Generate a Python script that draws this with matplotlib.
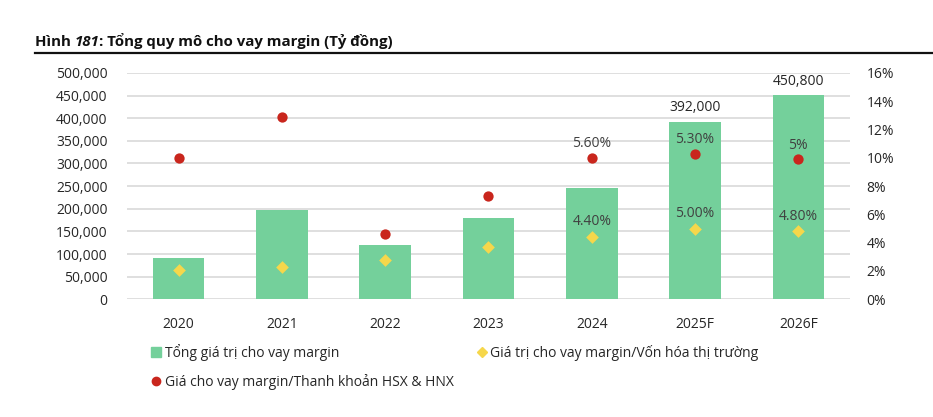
import matplotlib
matplotlib.use("Agg")
import matplotlib.pyplot as plt
from matplotlib.lines import Line2D
from matplotlib.offsetbox import HPacker, TextArea, AnchoredOffsetbox

plt.rcParams['font.family'] = ['Open Sans', 'DejaVu Sans']

years = ["2020", "2021", "2022", "2023", "2024", "2025F", "2026F"]
margin_total = [92000, 198000, 120000, 180000, 245000, 392000, 450800]
ratio_mcap = [2.1, 2.3, 2.8, 3.7, 4.4, 5.0, 4.8]
ratio_liquidity = [10.0, 12.9, 4.6, 7.3, 10.0, 10.3, 9.9]

bar_labels = {5: "392,000", 6: "450,800"}
dot_labels = {4: "5.60%", 5: "5.30%", 6: "5%"}
diamond_labels = {4: "4.40%", 5: "5.00%", 6: "4.80%"}

green = "#74D09B"
red = "#C9261D"
yellow = "#F6D74B"
grid_c = "#D9D9D9"
text_c = "#262626"
label_c = "#404040"

fig = plt.figure(figsize=(9.33, 4.17), dpi=100)
ax = fig.add_axes([0.1361, 0.2823, 0.7749, 0.5427])
ax2 = ax.twinx()

x = list(range(len(years)))
ax.bar(x, margin_total, width=0.5, color=green, zorder=2)
ax.set_xlim(-0.5, len(years) - 0.5)
ax.set_ylim(0, 500000)
ax.set_yticks(range(0, 500001, 50000))
ax.set_yticklabels([f"{v:,}" for v in range(0, 500001, 50000)])
ax.grid(axis="y", color=grid_c, linewidth=1.2, zorder=0)
ax.set_axisbelow(True)
ax.set_xticks(x)
ax.set_xticklabels(years)

ax2.scatter(x, ratio_liquidity, s=55, color=red, marker="o", zorder=4, linewidths=0)
ax2.scatter(x, ratio_mcap, s=42, color=yellow, marker="D", zorder=4, linewidths=0)
ax2.set_ylim(0, 16)
ax2.set_yticks(range(0, 17, 2))
ax2.set_yticklabels([f"{v}%" for v in range(0, 17, 2)])

for a in (ax, ax2):
    for s in a.spines.values():
        s.set_visible(False)
ax.tick_params(axis="y", length=0, pad=14, labelsize=10, labelcolor=text_c)
ax.tick_params(axis="x", length=0, pad=13, labelsize=10, labelcolor=text_c)
ax2.tick_params(axis="y", length=0, pad=12, labelsize=10, labelcolor=text_c)

for i, t in bar_labels.items():
    ax.annotate(t, (x[i], margin_total[i]), xytext=(0, 10), textcoords="offset points",
                ha="center", va="center", fontsize=10, color=text_c)
for i, t in dot_labels.items():
    ax2.annotate(t, (x[i], ratio_liquidity[i]), xytext=(0, 10), textcoords="offset points",
                 ha="center", va="center", fontsize=10, color=label_c, zorder=5)
for i, t in diamond_labels.items():
    ax2.annotate(t, (x[i], ratio_mcap[i]), xytext=(0, 11), textcoords="offset points",
                 ha="center", va="center", fontsize=10, color=label_c, zorder=5)

handles = [
    Line2D([], [], marker="s", color=green, linestyle="none", markersize=7),
    Line2D([], [], marker="o", color=red, linestyle="none", markersize=6),
    Line2D([], [], marker="D", color=yellow, linestyle="none", markersize=5),
]
labels = ["Tổng giá trị cho vay margin", "Giá cho vay margin/Thanh khoản HSX & HNX",
          "Giá trị cho vay margin/Vốn hóa thị trường"]
fig.legend(handles, labels, ncol=2, loc="upper left", bbox_to_anchor=(0.163, 0.175),
           frameon=False, fontsize=10, handlelength=0.6, handletextpad=0.3,
           columnspacing=1.75, labelspacing=0.9, borderaxespad=0, borderpad=0,
           labelcolor=text_c)

parts = [("Hình ", "normal"), ("181", "italic"), (": Tổng quy mô cho vay margin (Tỷ đồng)", "normal")]
boxes = [TextArea(p, textprops=dict(fontsize=10.8, fontweight="bold", style=st, color="#111111"))
         for p, st in parts]
pack = HPacker(children=boxes, align="baseline", pad=0, sep=0)
ab = AnchoredOffsetbox(loc="center left", child=pack, bbox_to_anchor=(0.0375, 1 - 41 / 417),
                       bbox_transform=fig.transFigure, frameon=False, pad=0, borderpad=0)
fig.add_artist(ab)
fig.add_artist(Line2D([35 / 933, 1.0], [1 - 53 / 417, 1 - 53 / 417], color="#111111",
                      linewidth=1.6, transform=fig.transFigure))

fig.savefig("out.png", dpi=100)
